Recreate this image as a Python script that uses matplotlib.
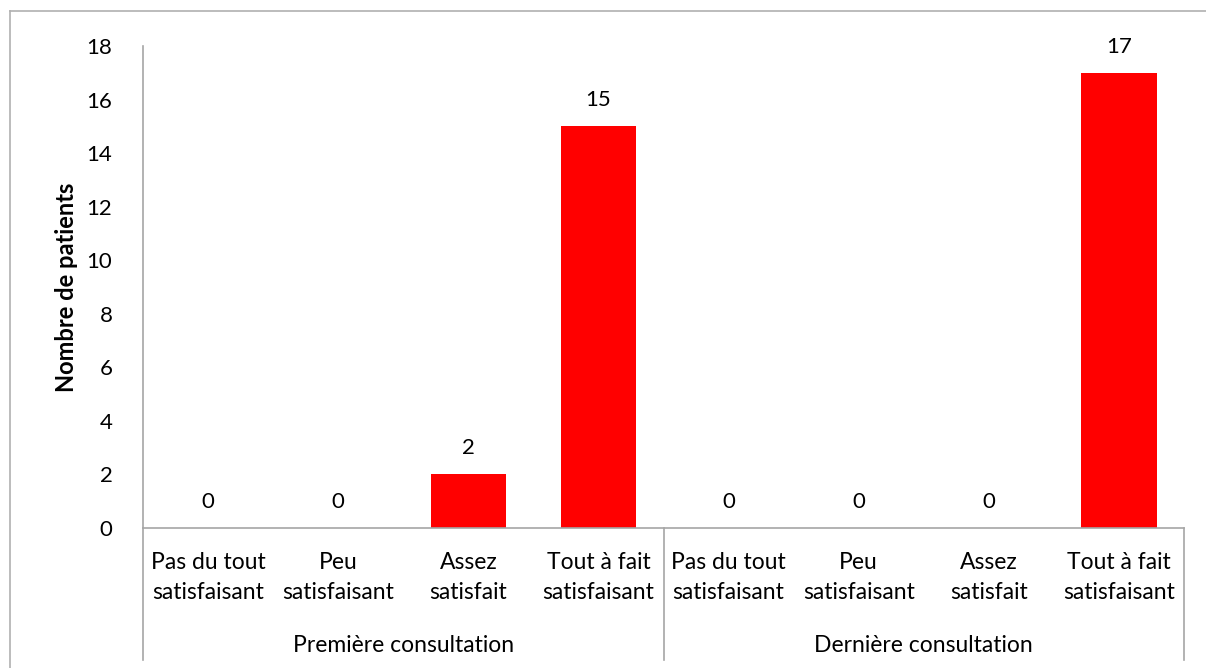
import matplotlib.pyplot as plt
from matplotlib.lines import Line2D

plt.rcParams['font.family'] = ['Lato', 'DejaVu Sans']

groups = ["Première consultation", "Dernière consultation"]
categories = ["Pas du tout\nsatisfaisant", "Peu\nsatisfaisant",
              "Assez\nsatisfait", "Tout à fait\nsatisfaisant"]
premiere = [0, 0, 2, 15]
derniere = [0, 0, 0, 17]

values = premiere + derniere
labels = categories + categories
x = list(range(len(values)))

W, H = 1206, 668
fig = plt.figure(figsize=(W / 100, H / 100), dpi=100)
ax = fig.add_axes([143 / W, 1 - 528 / H, (1184 - 143) / W, (528 - 46) / H])

ax.bar(x, values, width=0.58, color='#ff0000')
for xi, v in zip(x, values):
    ax.text(xi, v + 0.6, '%d' % v, ha='center', va='bottom', fontsize=16)

ax.set_xlim(-0.5, len(values) - 0.5)
ax.set_ylim(0, 18)
ax.set_yticks(range(0, 19, 2))
ax.tick_params(axis='y', length=0, labelsize=16, pad=22)
ax.set_xticks([])
for s in ['top', 'right']:
    ax.spines[s].set_visible(False)
for s in ['left', 'bottom']:
    ax.spines[s].set_color('#a6a6a6')
    ax.spines[s].set_linewidth(1.2)
ax.set_ylabel('Nombre de patients', fontsize=17, fontweight='bold', labelpad=6)

# two-level category axis
trans = ax.get_xaxis_transform()
for xi, lab in zip(x, labels):
    ax.text(xi, -0.05, lab, transform=trans, ha='center', va='top',
            fontsize=16.5, linespacing=1.55)
for gi, g in enumerate(groups):
    ax.text(gi * 4 + 1.5, -0.222, g, transform=trans, ha='center', va='top', fontsize=16.5)
for xb in [-0.5, 3.5, 7.5]:
    ax.add_line(Line2D([xb, xb], [0, -(660 - 528) / 482], transform=trans,
                       color='#a6a6a6', lw=1.2, clip_on=False))

# outer chart frame (top and left edges)
fig.lines.append(Line2D([10 / W, 1], [1 - 11 / H, 1 - 11 / H], transform=fig.transFigure,
                        color='#b0b0b0', lw=1.2))
fig.lines.append(Line2D([10 / W, 10 / W], [0, 1 - 11 / H], transform=fig.transFigure,
                        color='#b0b0b0', lw=1.2))

fig.savefig('out.png', dpi=100)
